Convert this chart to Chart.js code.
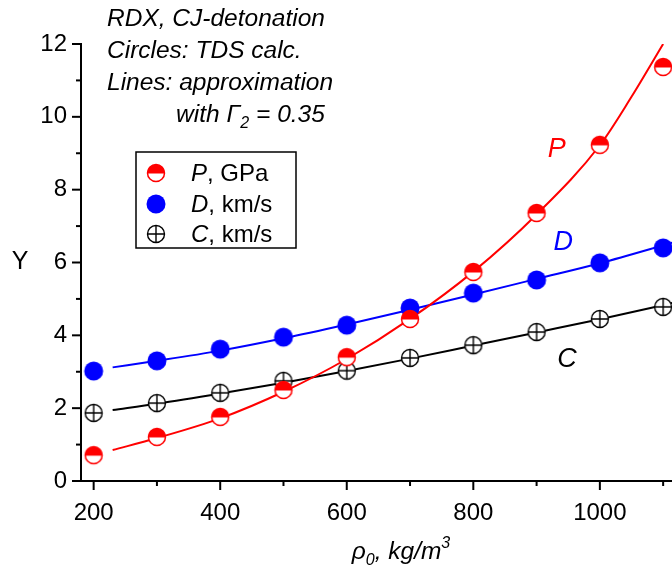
<!DOCTYPE html>
<html>
<head>
<meta charset="utf-8">
<script src="https://cdn.jsdelivr.net/npm/chart.js@4.4.1/dist/chart.umd.min.js"></script>
<style>
    html, body { margin: 0; padding: 0; background: #fff; overflow: hidden; }
    #wrap { position: relative; width: 672px; height: 576px; }
</style>
</head>
<body>
<div id="wrap"><canvas id="rdxChart" width="672" height="576"></canvas></div>
<script>
// RDX CJ-detonation: TDS points + approximation lines

const FONT = '"Liberation Sans", Arial, sans-serif';

// TDS calc. (circles)
const rho = [200, 300, 400, 500, 600, 700, 800, 900, 1000, 1100];
const pCalc = [0.71, 1.21, 1.76, 2.50, 3.40, 4.45, 5.74, 7.36, 9.23, 11.37];
const dCalc = [3.02, 3.30, 3.62, 3.95, 4.28, 4.75, 5.16, 5.52, 5.99, 6.40];
const cCalc = [1.87, 2.14, 2.42, 2.75, 3.03, 3.38, 3.73, 4.09, 4.45, 4.78];

// approximation (lines)
const rhoFitP = [230, 300, 400, 500, 600, 700, 800, 900, 1000, 1050, 1100];
const pFit = [0.85, 1.18, 1.72, 2.45, 3.35, 4.45, 5.75, 7.32, 9.22, 10.55, 12.0];
const rhoFit = [230, 300, 400, 500, 600, 700, 800, 900, 1000, 1120];
const dFit = [3.12, 3.30, 3.58, 3.92, 4.30, 4.70, 5.12, 5.55, 5.98, 6.57];
const cFit = [1.95, 2.12, 2.40, 2.70, 3.02, 3.36, 3.72, 4.08, 4.44, 4.91];

const RED = '#ff0000';
const BLUE = '#0000ff';
const BLACK = '#000000';

function pairs(xs, ys) {
    return xs.map((x, i) => ({ x: x, y: ys[i] }));
}

// marker images
function makeMarker(kind) {
    const c = document.createElement('canvas');
    c.width = 24;
    c.height = 24;
    const g = c.getContext('2d');
    const cx = 12, cy = 12;
    if (kind === 'half') {
        g.fillStyle = '#fff';
        g.beginPath(); g.arc(cx, cy, 8.5, 0, Math.PI * 2); g.fill();
        g.fillStyle = RED;
        g.beginPath(); g.arc(cx, cy + 0.5, 9, Math.PI, 0); g.closePath(); g.fill();
        g.strokeStyle = RED; g.lineWidth = 1.5;
        g.beginPath(); g.arc(cx, cy, 8.5, 0, Math.PI * 2); g.stroke();
    } else if (kind === 'fill') {
        g.fillStyle = BLUE;
        g.beginPath(); g.arc(cx, cy, 9.5, 0, Math.PI * 2); g.fill();
    } else {
        g.fillStyle = '#fff';
        g.beginPath(); g.arc(cx, cy, 8.5, 0, Math.PI * 2); g.fill();
        g.strokeStyle = BLACK; g.lineWidth = 1.4;
        g.beginPath(); g.arc(cx, cy, 8.5, 0, Math.PI * 2); g.stroke();
        g.beginPath();
        g.moveTo(cx - 8.5, cy); g.lineTo(cx + 8.5, cy);
        g.moveTo(cx, cy - 8.5); g.lineTo(cx, cy + 8.5);
        g.stroke();
    }
    return c;
}

const markP = makeMarker('half');
const markD = makeMarker('fill');
const markC = makeMarker('cross');

function pointSet(data, mark, order) {
    return {
        data: data,
        showLine: false,
        pointStyle: mark,
        pointRadius: 10,
        order: order
    };
}

function lineSet(data, color) {
    return {
        data: data,
        showLine: true,
        borderColor: color,
        borderWidth: 2,
        pointRadius: 0,
        cubicInterpolationMode: 'monotone',
        order: 10
    };
}

// draws segments of text with own styles, left to right
function drawRuns(ctx, x, y, runs) {
    runs.forEach((r) => {
        ctx.font = r.font;
        ctx.fillStyle = r.color || BLACK;
        ctx.fillText(r.text, x, y + (r.dy || 0));
        x += ctx.measureText(r.text).width;
    });
}

function runsWidth(ctx, runs) {
    let w = 0;
    runs.forEach((r) => {
        ctx.font = r.font;
        w += ctx.measureText(r.text).width;
    });
    return w;
}

const it = (s) => 'italic ' + s + 'px ' + FONT;
const rg = (s) => s + 'px ' + FONT;

const decor = {
    id: 'decor',
    afterDraw(chart) {
        const ctx = chart.ctx;
        const xs = chart.scales.x;
        const ys = chart.scales.y;
        const area = chart.chartArea;
        ctx.save();

        // tick marks, outward
        ctx.strokeStyle = BLACK;
        ctx.lineWidth = 2;
        xs.ticks.forEach((t) => {
            const px = xs.getPixelForValue(t.value);
            const len = t.value % 200 === 0 ? 9 : 5;
            ctx.beginPath();
            ctx.moveTo(px, area.bottom);
            ctx.lineTo(px, area.bottom + len);
            ctx.stroke();
        });
        ys.ticks.forEach((t) => {
            const py = ys.getPixelForValue(t.value);
            const len = t.value % 2 === 0 ? 9 : 5;
            ctx.beginPath();
            ctx.moveTo(area.left, py);
            ctx.lineTo(area.left - len, py);
            ctx.stroke();
        });

        // note block
        ctx.textAlign = 'left';
        ctx.textBaseline = 'alphabetic';
        drawRuns(ctx, 107, 26, [{ text: 'RDX, CJ-detonation', font: it(24.5) }]);
        drawRuns(ctx, 107, 58, [{ text: 'Circles: TDS calc.', font: it(24.5) }]);
        drawRuns(ctx, 107, 90, [{ text: 'Lines: approximation', font: it(24.5) }]);
        drawRuns(ctx, 176, 122, [
            { text: 'with ', font: it(24.5) },
            { text: '\u0393', font: it(24.5) },
            { text: '2', font: it(16), dy: 6 },
            { text: ' = 0.35', font: it(24.5) }
        ]);

        // legend box
        ctx.lineWidth = 1.5;
        ctx.strokeRect(136, 152, 160, 96);
        const rows = [
            { mark: markP, y: 173, sym: 'P', unit: ', GPa' },
            { mark: markD, y: 204, sym: 'D', unit: ', km/s' },
            { mark: markC, y: 234, sym: 'C', unit: ', km/s' }
        ];
        rows.forEach((r) => {
            ctx.drawImage(r.mark, 156 - 12, r.y - 12);
            drawRuns(ctx, 191, r.y + 8, [
                { text: r.sym, font: it(24) },
                { text: r.unit, font: rg(24) }
            ]);
        });

        // series labels
        ctx.textAlign = 'center';
        ctx.textBaseline = 'middle';
        ctx.font = it(27);
        ctx.fillStyle = RED;
        ctx.fillText('P', xs.getPixelForValue(932), ys.getPixelForValue(9.1));
        ctx.fillStyle = BLUE;
        ctx.fillText('D', xs.getPixelForValue(942), ys.getPixelForValue(6.55));
        ctx.fillStyle = BLACK;
        ctx.fillText('C', xs.getPixelForValue(948), ys.getPixelForValue(3.35));

        // axis titles
        ctx.font = rg(25);
        ctx.fillText('Y', 20, 262);

        ctx.textAlign = 'left';
        ctx.textBaseline = 'alphabetic';
        const xt = [
            { text: '\u03c1', font: it(24.5) },
            { text: '0', font: it(16), dy: 6 },
            { text: ', kg/m', font: it(24.5) },
            { text: '3', font: it(16), dy: -11 }
        ];
        const w = runsWidth(ctx, xt);
        drawRuns(ctx, 401 - w / 2, 559, xt);

        ctx.restore();
    }
};

const axisFont = { family: FONT, size: 24 };

new Chart(document.getElementById('rdxChart'), {
    type: 'scatter',
    data: {
        datasets: [
            pointSet(pairs(rho, pCalc), markP, 1),
            pointSet(pairs(rho, dCalc), markD, 2),
            pointSet(pairs(rho, cCalc), markC, 3),
            lineSet(pairs(rhoFitP, pFit), RED),
            lineSet(pairs(rhoFit, dFit), BLUE),
            lineSet(pairs(rhoFit, cFit), BLACK)
        ]
    },
    options: {
        responsive: false,
        animation: false,
        events: [],
        layout: { autoPadding: false, padding: { top: 44, right: 0, left: 0, bottom: 0 } },
        plugins: {
            legend: { display: false },
            tooltip: { enabled: false }
        },
        scales: {
            x: {
                type: 'linear',
                min: 180,
                max: 1114,
                afterFit: (s) => { s.height = 95; s.paddingRight = 0; s.paddingLeft = 0; },
                grid: { display: false, drawTicks: false },
                border: { display: true, color: BLACK, width: 2 },
                ticks: {
                    stepSize: 100,
                    includeBounds: false,
                    autoSkip: false,
                    maxRotation: 0,
                    padding: 18,
                    color: BLACK,
                    font: axisFont,
                    callback: (v) => (v % 200 === 0 ? v : '')
                }
            },
            y: {
                min: 0,
                max: 12,
                afterFit: (s) => { s.width = 81; },
                grid: { display: false, drawTicks: false },
                border: { display: true, color: BLACK, width: 2 },
                ticks: {
                    stepSize: 1,
                    includeBounds: false,
                    autoSkip: false,
                    padding: 14,
                    color: BLACK,
                    font: axisFont,
                    callback: (v) => (v % 2 === 0 ? v : '')
                }
            }
        }
    },
    plugins: [decor]
});
</script>
</body>
</html>
